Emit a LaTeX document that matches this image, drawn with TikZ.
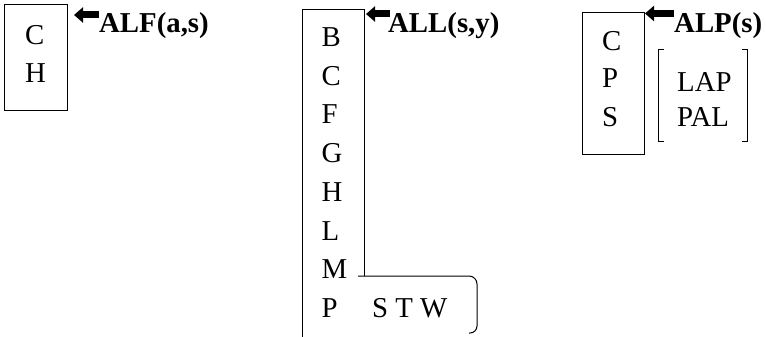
\documentclass[tikz,border=0pt]{standalone}
\usepackage{fontspec}
\setmainfont{Liberation Serif}
\usetikzlibrary{arrows.meta}
\tikzset{
  lett/.style={anchor=base west, inner sep=0pt, font=\fontsize{28.8}{34}\selectfont},
  lab/.style={anchor=base west, inner sep=0pt, font=\fontsize{28.8}{34}\selectfont\bfseries},
  boxline/.style={draw=black, line width=1pt},
  bigarrow/.style={-{Triangle[length=9pt,width=15pt]}, line width=7pt, draw=black}
}
\begin{document}
\begin{tikzpicture}[x=1pt,y=-1pt]
\useasboundingbox (0,0) rectangle (766,337);
% left box
\node[boxline, minimum width=63pt, minimum height=105pt, inner sep=0pt] (boxA) at (35.5,57.5) {};
\node[lett] (a1) at (25,45) {C};
\node[lett] (a2) at (25,83) {H};
\node[lab] (labA) at (99,33) {ALF(a,s)};
\coordinate (tipA) at (74,15);
\draw[bigarrow] (labA.west |- tipA) -- (tipA);
% middle box
\coordinate (mBL) at (302,337);
\coordinate (mTL) at (302,9.5);
\coordinate (mTR) at (364,9.5);
\coordinate (mBR) at (364,276);
\draw[boxline] (mBL) -- (mTL) -- (mTR) -- (mBR);
\coordinate (sStart) at (358,276);
\draw[boxline] (sStart) -- (469,276) arc[start angle=-90, end angle=0, radius=8] -- (477,326) arc[start angle=0, end angle=90, radius=7] -- (469,333);
\node[lett] (b1) at (321.5,47) {B};
\node[lett] (b2) at (321.5,85) {C};
\node[lett] (b3) at (321.5,124) {F};
\node[lett] (b4) at (321.5,162) {G};
\node[lett] (b5) at (321.5,201) {H};
\node[lett] (b6) at (321.5,240) {L};
\node[lett] (b7) at (321.5,278) {M};
\node[lett] (b8) at (321.5,317) {P};
\node[lett] (stw) at (372,317) {S T W};
\node[lab] (labB) at (388,33) {ALL(s,y)};
\coordinate (tipB) at (366,14);
\draw[bigarrow] (labB.west |- tipB) ++(2,0) -- (tipB);
% right box
\node[boxline, minimum width=62pt, minimum height=141pt, inner sep=0pt] (boxC) at (613,83.5) {};
\node[lett] (c1) at (602,51) {C};
\node[lett] (c2) at (602,88) {P};
\node[lett] (c3) at (602,126) {S};
\node[lab] (labC) at (674,33) {ALP(s)};
\coordinate (tipC) at (645,13.5);
\draw[bigarrow] (labC.west |- tipC) -- (tipC);
% bracket group
\node[lett] (d1) at (677,92) {LAP};
\node[lett] (d2) at (677,126) {PAL};
\coordinate (brL) at (658,50);
\coordinate (brR) at (747,50);
\draw[boxline] (brL) ++(6,0) -- (brL) -- (658,141) -- ++(6,0);
\draw[boxline] (brR) ++(-5,0) -- (brR) -- (747,141) -- ++(-5,0);
\end{tikzpicture}
\end{document}
